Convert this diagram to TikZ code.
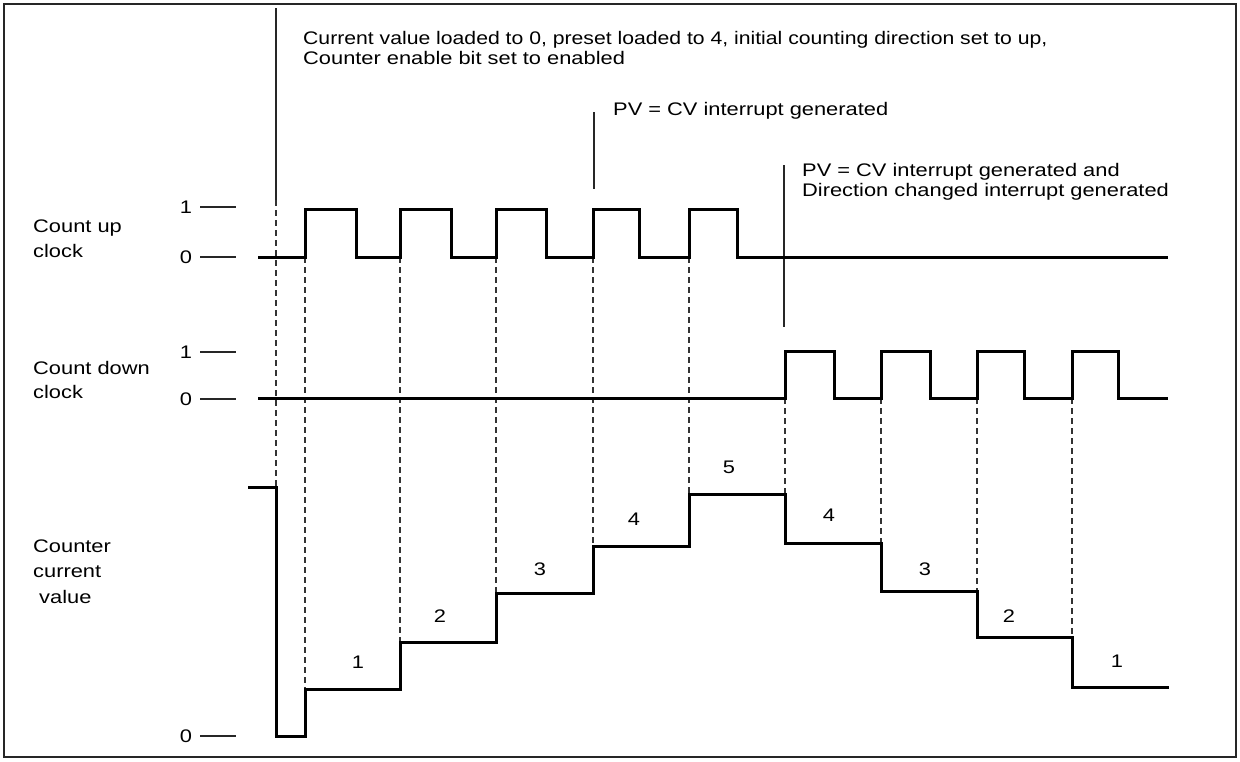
\documentclass[tikz,border=0pt]{standalone}
\usepackage{fontspec}
\setmainfont{Liberation Sans}[FakeStretch=1.2]
\begin{document}
\begin{tikzpicture}[x=1pt,y=-1pt,
  sig/.style={line width=3pt, line join=miter, black},
  dsh/.style={line width=1.5pt, dash pattern=on 6pt off 4pt, black!80},
  tickln/.style={line width=1.5pt, black!85},
  annot/.style={line width=1.4pt, black!85},
  txt/.style={font=\fontsize{18.2}{20}\selectfont, inner sep=0pt, anchor=base west},
  num/.style={font=\fontsize{18.2}{20}\selectfont, inner sep=0pt, anchor=center}]
\useasboundingbox (0,0) rectangle (1240,761);
\draw[line width=2.4pt, black!85] (4,4) rectangle (1236,757);

% texts
\node[txt] (t1a) at (303,44) {\scalebox{0.97}[1]{Current value loaded to 0, preset loaded to 4, initial counting direction set to up,}};
\node[txt] (t1b) at (303,64) {Counter enable bit set to enabled};
\node[txt] (t2) at (613,115) {PV = CV interrupt generated};
\node[txt] (t3a) at (802,176) {PV = CV interrupt generated and};
\node[txt] (t3b) at (802,196) {Direction changed interrupt generated};

\node[txt] (l1a) at (33,232) {Count up};
\node[txt] (l1b) at (33,257) {clock};
\node[txt] (l2a) at (33,374) {Count down};
\node[txt] (l2b) at (33,398) {clock};
\node[txt] (l3a) at (33,552) {Counter};
\node[txt] (l3b) at (33,577) {current};
\node[txt] (l3c) at (39,603) {value};

% axis ticks
\node[num] (u1) at (186,207) {1};
\node[num] (u0) at (186,257) {0};
\node[num] (d1) at (186,352) {1};
\node[num] (d0) at (186,399) {0};
\node[num] (c0) at (186,736) {0};
\draw[tickln] (200,207) -- (236,207);
\draw[tickln] (200,257) -- (236,257);
\draw[tickln] (200,352) -- (236,352);
\draw[tickln] (200,399) -- (236,399);
\draw[tickln] (200,736) -- (236,736);

% annotation lines
\draw[annot] (276,8) -- (276,200);
\draw[annot] (594,112) -- (594,189);
\draw[annot] (784,165) -- (784,327);

% dashed guides
\draw[dsh] (276,200) -- (276,487);
\draw[dsh] (305,257) -- (305,689);
\draw[dsh] (400,257) -- (400,642);
\draw[dsh] (496,257) -- (496,593);
\draw[dsh] (593,257) -- (593,546);
\draw[dsh] (689,257) -- (689,494);
\draw[dsh] (785,398) -- (785,494);
\draw[dsh] (881,398) -- (881,543);
\draw[dsh] (977,398) -- (977,591);
\draw[dsh] (1072,398) -- (1072,637);

% count up clock
\draw[sig] (258,257) -- (305,257) -- (305,209) -- (356,209) -- (356,257) -- (400,257)
  -- (400,209) -- (451,209) -- (451,257) -- (496,257) -- (496,209) -- (546,209)
  -- (546,257) -- (593,257) -- (593,209) -- (639,209) -- (639,257) -- (689,257)
  -- (689,209) -- (737,209) -- (737,257) -- (1168,257);

% count down clock
\draw[sig] (258,398) -- (785,398) -- (785,351) -- (834,351) -- (834,398) -- (881,398)
  -- (881,351) -- (930,351) -- (930,398) -- (977,398) -- (977,351) -- (1024,351)
  -- (1024,398) -- (1072,398) -- (1072,351) -- (1118,351) -- (1118,398) -- (1168,398);

% counter value
\draw[sig] (248,487) -- (276,487) -- (276,736) -- (305,736) -- (305,689) -- (400,689)
  -- (400,642) -- (496,642) -- (496,593) -- (593,593) -- (593,546) -- (689,546)
  -- (689,494) -- (785,494) -- (785,543) -- (881,543) -- (881,591) -- (977,591)
  -- (977,637) -- (1072,637) -- (1072,687) -- (1169,687);

% step values
\node[num] (s1) at (358,662) {1};
\node[num] (s2) at (440,616) {2};
\node[num] (s3) at (540,569) {3};
\node[num] (s4) at (634,519) {4};
\node[num] (s5) at (729,467) {5};
\node[num] (r4) at (829,515) {4};
\node[num] (r3) at (925,569) {3};
\node[num] (r2) at (1009,616) {2};
\node[num] (r1) at (1117,661) {1};
\end{tikzpicture}
\end{document}
